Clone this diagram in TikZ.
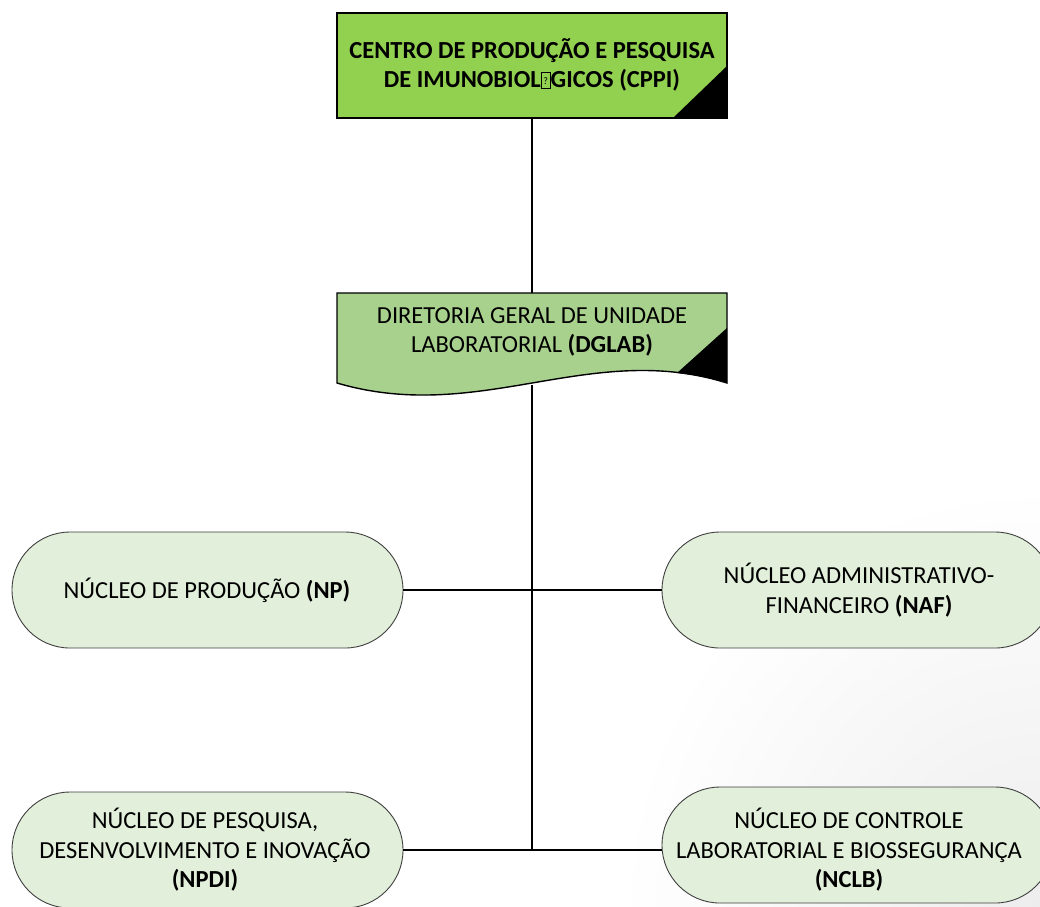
\documentclass[tikz,border=0pt]{standalone}
\usepackage{fontspec}
\setmainfont{Carlito}
\usetikzlibrary{positioning}
\definecolor{cppigreen}{HTML}{92D050}
\definecolor{dgreen}{HTML}{A9D18E}
\definecolor{pillgreen}{HTML}{E2EFDA}
\definecolor{pillborder}{HTML}{3F3F3F}
\newcommand{\missglyph}{{\setlength\fboxsep{0pt}\setlength\fboxrule{0.5pt}\fbox{\makebox[9pt]{\rule{0pt}{15pt}\raisebox{3pt}{\fontsize{10}{10}\selectfont\mdseries ?}}}}}
\tikzset{
  conn/.style={line width=2.9pt, black},
  pill/.style={draw=pillborder, line width=0.9pt, fill=pillgreen, rounded corners=58pt},
  txt/.style={font=\fontsize{24.5}{29.5}\selectfont, align=center, text=black, inner sep=0pt},
}
\begin{document}
\begin{tikzpicture}[x=1pt,y=-1pt]
\useasboundingbox (0,0) rectangle (1040,906);
\clip (0,0) rectangle (1040,906);
\fill[white] (0,0) rectangle (1040,906);
\shade[inner color=black!7, outer color=white] (1040,906) circle (420);
% connectors
\coordinate (top) at (532,118);
\coordinate (j1) at (532,590);
\coordinate (j2) at (532,850);
% CPPI
\draw[black, line width=1.4pt, fill=cppigreen] (337,13) rectangle (727,118);
\fill[black] (673,118) -- (727,66) -- (727,118) -- cycle;
\node[txt, font=\fontsize{24.5}{29.5}\selectfont\bfseries] (cppi) at (532,65) {CENTRO DE PRODUÇÃO E PESQUISA\\DE IMUNOBIOL\missglyph GICOS (CPPI)};
% DGLAB
\draw[black, line width=1.4pt, fill=dgreen] (337,293) -- (727,293) -- (727,383) .. controls (590,340) and (480,425) .. (337,383) -- cycle;
\fill[black] (677,373) -- (727,328) -- (727,383) .. controls (712,378) and (695,375) .. (677,373) -- cycle;
\node[txt] (dglab) at (532,332) {DIRETORIA GERAL DE UNIDADE\\LABORATORIAL \textbf{(DGLAB)}};
% pills
\draw[pill] (12,532) rectangle (403,648);
\node[txt] (np) at (207,590) {NÚCLEO DE PRODUÇÃO \textbf{(NP)}};
\draw[pill] (662,532) rectangle (1053,648);
\node[txt] (naf) at (859,590) {NÚCLEO ADMINISTRATIVO-\\FINANCEIRO \textbf{(NAF)}};
\draw[pill] (12,792) rectangle (403,908);
\node[txt] (npdi) at (205,850) {NÚCLEO DE PESQUISA,\\DESENVOLVIMENTO E INOVAÇÃO\\\textbf{(NPDI)}};
\draw[pill] (662,787) rectangle (1053,903);
\node[txt] (nclb) at (849,850) {NÚCLEO DE CONTROLE\\LABORATORIAL E BIOSSEGURANÇA\\\textbf{(NCLB)}};
% lines
\draw[conn] (top) -- (532,293);
\draw[conn] (532,385) -- (j2);
\draw[conn] (403,590) -- (662,590);
\draw[conn] (403,850) -- (662,850);
\end{tikzpicture}
\end{document}
